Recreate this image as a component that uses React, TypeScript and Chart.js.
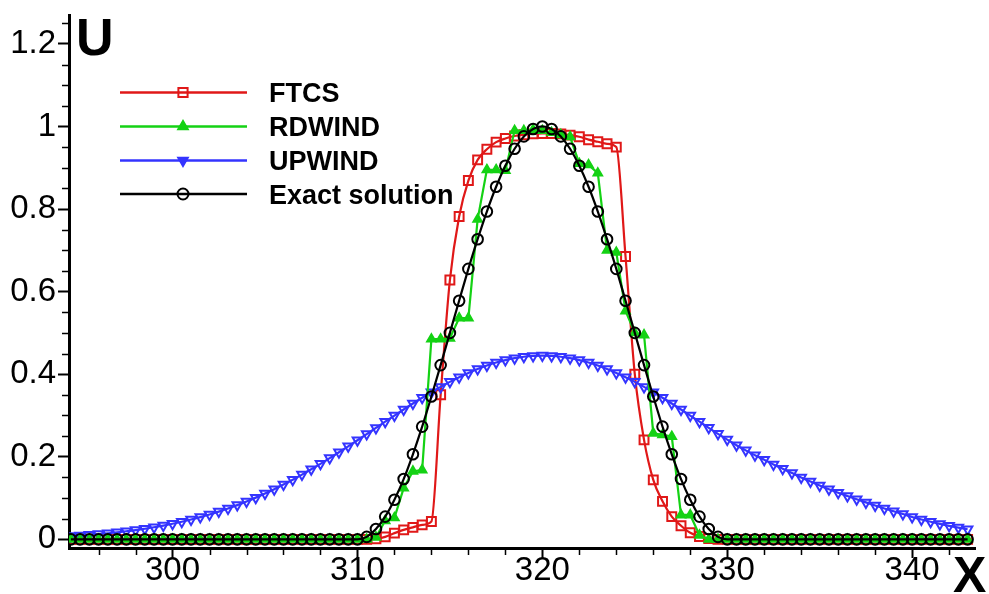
import React, { useEffect, useRef } from 'react';
import { Chart, registerables } from 'chart.js';

Chart.register(...registerables);

// ---------- data ----------
const xValues = [
  294.5, 295, 295.5, 296, 296.5, 297, 297.5, 298, 298.5, 299, 299.5, 300, 300.5, 301, 301.5, 302,
  302.5, 303, 303.5, 304, 304.5, 305, 305.5, 306, 306.5, 307, 307.5, 308, 308.5, 309, 309.5, 310,
  310.5, 311, 311.5, 312, 312.5, 313, 313.5, 314, 314.5, 315, 315.5, 316, 316.5, 317, 317.5, 318,
  318.5, 319, 319.5, 320, 320.5, 321, 321.5, 322, 322.5, 323, 323.5, 324, 324.5, 325, 325.5, 326,
  326.5, 327, 327.5, 328, 328.5, 329, 329.5, 330, 330.5, 331, 331.5, 332, 332.5, 333, 333.5, 334,
  334.5, 335, 335.5, 336, 336.5, 337, 337.5, 338, 338.5, 339, 339.5, 340, 340.5, 341, 341.5, 342,
  342.5, 343,
];

const ftcs = [
  0, 0, 0, 0, 0, 0, 0, 0, 0, 0, 0, 0, 0, 0, 0, 0,
  0, 0, 0, 0, 0, 0, 0, 0, 0, 0, 0, 0, 0, 0, 0, 0,
  0, 0.001, 0.006, 0.015, 0.023, 0.029, 0.035, 0.043, 0.35, 0.628, 0.782, 0.869, 0.919, 0.945, 0.962, 0.971,
  0.977, 0.98, 0.982, 0.983, 0.983, 0.982, 0.979, 0.975, 0.968, 0.963, 0.958, 0.95, 0.685, 0.4, 0.241, 0.144,
  0.092, 0.055, 0.033, 0.016, 0.007, 0.002, 0, 0, 0, 0, 0, 0, 0, 0, 0, 0,
  0, 0, 0, 0, 0, 0, 0, 0, 0, 0, 0, 0, 0, 0, 0, 0,
  0, 0,
];

const rdwind = [
  0, 0, 0, 0, 0, 0, 0, 0, 0, 0, 0, 0, 0, 0, 0, 0,
  0, 0, 0, 0, 0, 0, 0, 0, 0, 0, 0, 0, 0, 0, 0, 0,
  0, 0.005, 0.045, 0.052, 0.124, 0.165, 0.168, 0.485, 0.485, 0.487, 0.536, 0.536, 0.775, 0.895, 0.895, 0.893,
  0.99, 0.99, 0.992, 0.99, 0.985, 0.98, 0.975, 0.91, 0.907, 0.887, 0.7, 0.695, 0.553, 0.5, 0.495, 0.257,
  0.253, 0.249, 0.059, 0.059, 0.01, 0, 0, 0, 0, 0, 0, 0, 0, 0, 0, 0,
  0, 0, 0, 0, 0, 0, 0, 0, 0, 0, 0, 0, 0, 0, 0, 0,
  0, 0,
];

const upwind = [
  0.008, 0.0094, 0.0109, 0.0127, 0.0147, 0.017, 0.0196, 0.0224, 0.0257, 0.0292, 0.0332, 0.0377, 0.0426, 0.0479, 0.0538, 0.0602,
  0.0672, 0.0747, 0.0829, 0.0916, 0.101, 0.111, 0.1215, 0.1327, 0.1445, 0.1568, 0.1696, 0.1829, 0.1967, 0.2109, 0.2253, 0.24,
  0.2549, 0.2699, 0.2849, 0.2998, 0.3145, 0.3289, 0.3428, 0.3563, 0.3692, 0.3814, 0.3927, 0.4031, 0.4126, 0.4209, 0.4282, 0.4341,
  0.4389, 0.4423, 0.4443, 0.445, 0.4443, 0.4423, 0.4389, 0.4341, 0.4282, 0.4209, 0.4126, 0.4031, 0.3927, 0.3814, 0.3692, 0.3563,
  0.3428, 0.3289, 0.3145, 0.2998, 0.2849, 0.27, 0.2555, 0.2415, 0.228, 0.2155, 0.2035, 0.1925, 0.1815, 0.171, 0.1605, 0.15,
  0.14, 0.1305, 0.1215, 0.113, 0.105, 0.0972, 0.0895, 0.082, 0.0748, 0.068, 0.0615, 0.054, 0.048, 0.0425, 0.0374, 0.0327,
  0.0284, 0.0245,
];

const exact = [
  0, 0, 0, 0, 0, 0, 0, 0, 0, 0, 0, 0, 0, 0, 0, 0,
  0, 0, 0, 0, 0, 0, 0, 0, 0, 0, 0, 0, 0, 0, 0, 0,
  0.006, 0.025, 0.055, 0.096, 0.146, 0.206, 0.273, 0.346, 0.422, 0.5, 0.578, 0.655, 0.727, 0.794, 0.854, 0.905,
  0.946, 0.976, 0.994, 1, 0.994, 0.976, 0.946, 0.905, 0.854, 0.794, 0.727, 0.655, 0.578, 0.5, 0.422, 0.346,
  0.273, 0.206, 0.146, 0.096, 0.055, 0.025, 0.006, 0, 0, 0, 0, 0, 0, 0, 0, 0,
  0, 0, 0, 0, 0, 0, 0, 0, 0, 0, 0, 0, 0, 0, 0, 0,
  0, 0,
];

const seriesNames = ['FTCS', 'RDWIND', 'UPWIND', 'Exact solution'];
const xMajorTicks = [300, 310, 320, 330, 340];
const xMinorTicks = [296, 298, 302, 304, 306, 308, 312, 314, 316, 318, 322, 324, 326, 328, 332, 334, 336, 338, 342];
const yMajorTicks = [0, 0.2, 0.4, 0.6, 0.8, 1, 1.2];
const yMinorTicks = [0.05, 0.1, 0.15, 0.25, 0.3, 0.35, 0.45, 0.5, 0.55, 0.65, 0.7, 0.75, 0.85, 0.9, 0.95, 1.05, 1.1, 1.15, 1.25];
const xTitle = 'X';
const yTitle = 'U';

// ---------- styles ----------
const FONT = '"Liberation Sans", Arial, sans-serif';
const RED = '#e01818';
const GREEN = '#14d214';
const BLUE = '#3434ff';
const BLACK = '#000000';

type MarkerKind = 'square' | 'triUp' | 'triDown' | 'circle';

function drawMarker(ctx: CanvasRenderingContext2D, kind: MarkerKind, x: number, y: number, r: number, stroke: string, fill: string | null) {
  ctx.beginPath();
  if (kind === 'square') {
    const s = r * Math.SQRT1_2;
    ctx.rect(x - s, y - s, 2 * s, 2 * s);
  } else if (kind === 'circle') {
    ctx.arc(x, y, r, 0, Math.PI * 2);
  } else {
    const dir = kind === 'triUp' ? 1 : -1;
    let a = 0;
    for (let k = 0; k < 3; k++) {
      const px = x + Math.sin(a) * r;
      const py = y - dir * Math.cos(a) * r;
      if (k === 0) ctx.moveTo(px, py); else ctx.lineTo(px, py);
      a += (2 * Math.PI) / 3;
    }
    ctx.closePath();
  }
  if (fill) { ctx.fillStyle = fill; ctx.fill(); }
  ctx.strokeStyle = stroke;
  ctx.lineWidth = 2;
  ctx.stroke();
}

const legendItems: { color: string; kind: MarkerKind; fill: string | null; r: number }[] = [
  { color: RED, kind: 'square', fill: null, r: 6.5 },
  { color: GREEN, kind: 'triUp', fill: GREEN, r: 5.5 },
  { color: BLUE, kind: 'triDown', fill: BLUE, r: 5.5 },
  { color: BLACK, kind: 'circle', fill: null, r: 5.5 },
];

const overlayPlugin = {
  id: 'overlay',
  afterDraw(chart: any) {
    const ctx: CanvasRenderingContext2D = chart.ctx;
    const xs = chart.scales.x;
    const ys = chart.scales.y;
    const area = chart.chartArea;
    ctx.save();
    // minor ticks
    ctx.strokeStyle = '#000';
    ctx.lineWidth = 1.5;
    ctx.beginPath();
    xMinorTicks.forEach((v) => {
      const px = Math.round(xs.getPixelForValue(v)) + 0.5;
      ctx.moveTo(px, area.bottom);
      ctx.lineTo(px, area.bottom + 7);
    });
    yMinorTicks.forEach((v) => {
      const py = Math.round(ys.getPixelForValue(v)) + 0.5;
      ctx.moveTo(area.left, py);
      ctx.lineTo(area.left - 7, py);
    });
    ctx.stroke();

    // axis titles
    ctx.fillStyle = '#000';
    ctx.textAlign = 'left';
    ctx.textBaseline = 'alphabetic';
    ctx.font = `bold 52px ${FONT}`;
    ctx.fillText(yTitle, area.left + 7, 55);
    ctx.font = `bold 50px ${FONT}`;
    ctx.fillText(xTitle, 953, 592);

    // legend
    const rowYs = [92.5, 126.5, 160.5, 194];
    ctx.font = `bold 27px ${FONT}`;
    legendItems.forEach((it, i) => {
      const y = rowYs[i];
      ctx.strokeStyle = it.color;
      ctx.lineWidth = 2.5;
      ctx.beginPath();
      ctx.moveTo(120, y);
      ctx.lineTo(247, y);
      ctx.stroke();
      drawMarker(ctx, it.kind, 183, y, it.r, it.color, it.fill);
      ctx.fillStyle = '#000';
      ctx.fillText(seriesNames[i], 269, y + 9.5);
    });
    ctx.restore();
  },
};

function makeData(ys: number[]) {
  return xValues.map((x, i) => ({ x, y: ys[i] }));
}

export default function App() {
  const ref = useRef<HTMLCanvasElement | null>(null);
  useEffect(() => {
    if (!ref.current) return;
    const chart = new Chart(ref.current, {
      type: 'line',
      data: {
        datasets: [
          {
            label: seriesNames[0],
            data: makeData(ftcs),
            borderColor: RED,
            borderWidth: 2.2,
            pointStyle: 'rect',
            pointRadius: 6.3,
            pointBorderWidth: 2,
            pointBorderColor: RED,
            pointBackgroundColor: 'rgba(0,0,0,0)',
            cubicInterpolationMode: 'monotone',
            order: 4,
          },
          {
            label: seriesNames[1],
            data: makeData(rdwind),
            borderColor: GREEN,
            borderWidth: 2.2,
            pointStyle: 'triangle',
            pointRadius: 5.3,
            pointBorderWidth: 1.6,
            pointBorderColor: GREEN,
            pointBackgroundColor: GREEN,
            order: 2,
          },
          {
            label: seriesNames[2],
            data: makeData(upwind),
            borderColor: BLUE,
            borderWidth: 2.2,
            pointStyle: 'triangle',
            rotation: 180,
            pointRadius: 5.5,
            pointBorderWidth: 2,
            pointBorderColor: BLUE,
            pointBackgroundColor: 'rgba(0,0,0,0)',
            cubicInterpolationMode: 'monotone',
            order: 3,
          },
          {
            label: seriesNames[3],
            data: makeData(exact),
            borderColor: BLACK,
            borderWidth: 2.2,
            pointStyle: 'circle',
            pointRadius: 5.3,
            pointBorderWidth: 2,
            pointBorderColor: BLACK,
            pointBackgroundColor: 'rgba(0,0,0,0)',
            cubicInterpolationMode: 'monotone',
            order: 1,
          },
        ] as any,
      },
      options: {
        responsive: false,
        maintainAspectRatio: false,
        devicePixelRatio: 1,
        animation: false,
        layout: { padding: { top: 15, right: 14, left: 0, bottom: 0 } },
        plugins: { legend: { display: false }, tooltip: { enabled: false } },
        elements: { line: { tension: 0 } },
        scales: {
          x: {
            type: 'linear',
            min: 294.4,
            max: 343.4,
            afterBuildTicks: (s: any) => { s.ticks = xMajorTicks.map((v) => ({ value: v })); },
            afterFit: (s: any) => { s.height = 46; s.paddingLeft = 0; s.paddingRight = 0; },
            grid: { display: true, drawOnChartArea: false, drawTicks: true, tickLength: 10, tickWidth: 2, tickColor: '#000' },
            border: { display: true, color: '#000', width: 3 },
            ticks: {
              autoSkip: false,
              maxRotation: 0,
              color: '#000',
              padding: -7,
              font: { family: FONT, size: 33 },
              callback: (v: any) => String(v),
            },
          },
          y: {
            type: 'linear',
            min: -0.021,
            max: 1.27,
            afterBuildTicks: (s: any) => { s.ticks = yMajorTicks.map((v) => ({ value: v })); },
            afterFit: (s: any) => { s.width = 69; s.paddingTop = 0; s.paddingBottom = 0; },
            grid: { display: true, drawOnChartArea: false, drawTicks: true, tickLength: 11, tickWidth: 2, tickColor: '#000' },
            border: { display: true, color: '#000', width: 3 },
            ticks: {
              autoSkip: false,
              color: '#000',
              padding: 2,
              font: { family: FONT, size: 33 },
              callback: (v: any) => String(v),
            },
          },
        },
      } as any,
      plugins: [overlayPlugin],
    });
    return () => chart.destroy();
  }, []);

  return (
    <div style={{ position: 'fixed', left: 0, top: 0, width: 989, height: 594, background: '#fff' }}>
      <canvas ref={ref} width={989} height={594} style={{ display: 'block' }} />
    </div>
  );
}
